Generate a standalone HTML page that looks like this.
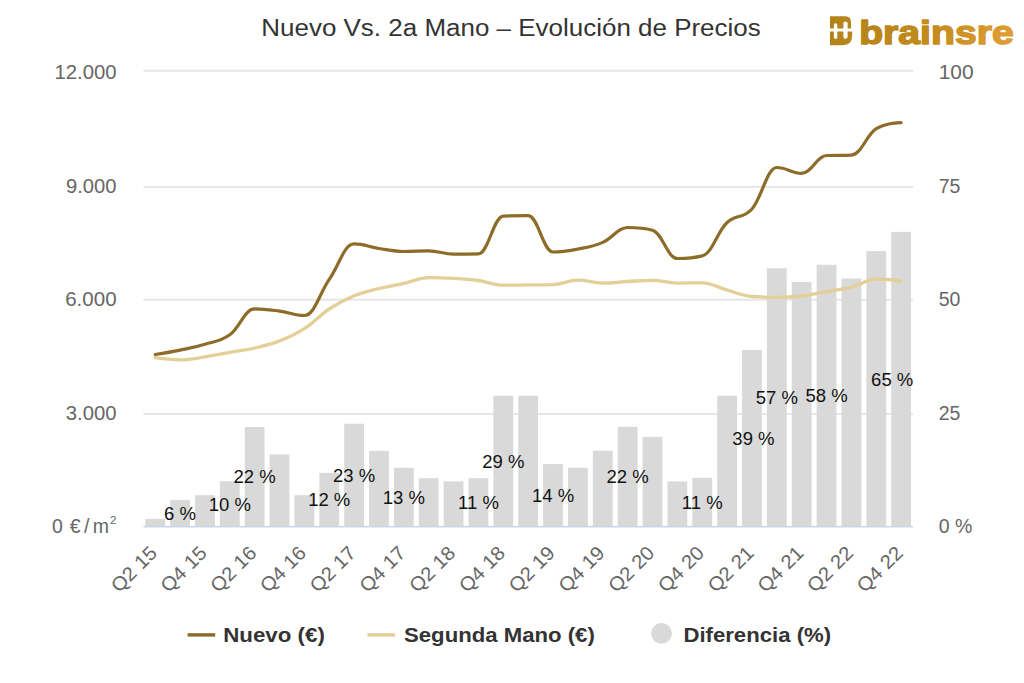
<!DOCTYPE html>
<html><head><meta charset="utf-8">
<style>
html,body{margin:0;padding:0;background:#fff;}
body{width:1024px;height:683px;overflow:hidden;position:relative;}
svg{position:absolute;left:0;top:0;}
text{font-family:"Liberation Sans",sans-serif;}
.title{font-size:23px;fill:#333;}
.ax{font-size:19.5px;fill:#666;}
.xl{font-size:19.5px;fill:#666;}
.dl{font-size:18.5px;fill:#111;}
.lg{font-size:19.5px;font-weight:bold;fill:#333;}
.logo{font-size:34px;font-weight:bold;}
</style></head><body>
<svg width="1024" height="683" viewBox="0 0 1024 683">
<defs>
<linearGradient id="gold" gradientUnits="userSpaceOnUse" x1="829" y1="0" x2="1015" y2="0">
<stop offset="0" stop-color="#b3831a"/><stop offset="0.5" stop-color="#c18a1c"/><stop offset="1" stop-color="#df9f36"/>
</linearGradient>
</defs>
<rect width="1024" height="683" fill="#fff"/>
<text class="title" x="511" y="35.8" text-anchor="middle" textLength="499.5" lengthAdjust="spacingAndGlyphs">Nuevo Vs. 2a Mano – Evolución de Precios</text>
<rect x="143.5" y="69.8" width="769.5" height="2" fill="#e6e6e6"/>
<rect x="143.5" y="185.9" width="769.5" height="2" fill="#e6e6e6"/>
<rect x="143.5" y="298.7" width="769.5" height="2" fill="#e6e6e6"/>
<rect x="143.5" y="413.0" width="769.5" height="2" fill="#e6e6e6"/>
<rect x="145.30" y="518.90" width="19.80" height="7.80" fill="#d9d9d9"/>
<rect x="170.16" y="500.10" width="19.80" height="26.60" fill="#d9d9d9"/>
<rect x="195.03" y="495.20" width="19.80" height="31.50" fill="#d9d9d9"/>
<rect x="219.89" y="481.20" width="19.80" height="45.50" fill="#d9d9d9"/>
<rect x="244.76" y="427.00" width="19.80" height="99.70" fill="#d9d9d9"/>
<rect x="269.62" y="454.40" width="19.80" height="72.30" fill="#d9d9d9"/>
<rect x="294.49" y="495.20" width="19.80" height="31.50" fill="#d9d9d9"/>
<rect x="319.36" y="472.90" width="19.80" height="53.80" fill="#d9d9d9"/>
<rect x="344.22" y="423.70" width="19.80" height="103.00" fill="#d9d9d9"/>
<rect x="369.09" y="450.90" width="19.80" height="75.80" fill="#d9d9d9"/>
<rect x="393.95" y="467.80" width="19.80" height="58.90" fill="#d9d9d9"/>
<rect x="418.81" y="478.20" width="19.80" height="48.50" fill="#d9d9d9"/>
<rect x="443.68" y="481.40" width="19.80" height="45.30" fill="#d9d9d9"/>
<rect x="468.55" y="478.20" width="19.80" height="48.50" fill="#d9d9d9"/>
<rect x="493.41" y="395.80" width="19.80" height="130.90" fill="#d9d9d9"/>
<rect x="518.27" y="395.80" width="19.80" height="130.90" fill="#d9d9d9"/>
<rect x="543.14" y="464.10" width="19.80" height="62.60" fill="#d9d9d9"/>
<rect x="568.00" y="467.80" width="19.80" height="58.90" fill="#d9d9d9"/>
<rect x="592.87" y="450.70" width="19.80" height="76.00" fill="#d9d9d9"/>
<rect x="617.74" y="426.80" width="19.80" height="99.90" fill="#d9d9d9"/>
<rect x="642.60" y="436.90" width="19.80" height="89.80" fill="#d9d9d9"/>
<rect x="667.47" y="481.40" width="19.80" height="45.30" fill="#d9d9d9"/>
<rect x="692.33" y="477.80" width="19.80" height="48.90" fill="#d9d9d9"/>
<rect x="717.20" y="395.70" width="19.80" height="131.00" fill="#d9d9d9"/>
<rect x="742.06" y="349.90" width="19.80" height="176.80" fill="#d9d9d9"/>
<rect x="766.93" y="268.20" width="19.80" height="258.50" fill="#d9d9d9"/>
<rect x="791.79" y="281.90" width="19.80" height="244.80" fill="#d9d9d9"/>
<rect x="816.65" y="264.80" width="19.80" height="261.90" fill="#d9d9d9"/>
<rect x="841.52" y="278.50" width="19.80" height="248.20" fill="#d9d9d9"/>
<rect x="866.38" y="251.10" width="19.80" height="275.60" fill="#d9d9d9"/>
<rect x="891.25" y="231.90" width="19.80" height="294.80" fill="#d9d9d9"/>
<rect x="143.5" y="525.9" width="769.5" height="1.6" fill="#ccd6eb"/>
<path d="M155.20 357.70 C155.20 357.70 170.12 359.80 180.06 359.80 C190.01 359.80 194.98 358.38 204.93 356.90 C214.88 355.42 219.85 354.18 229.79 352.40 C239.74 350.62 244.71 350.30 254.66 348.00 C264.61 345.70 269.58 344.78 279.52 340.90 C289.47 337.02 294.44 334.98 304.39 328.60 C314.34 322.22 319.31 315.56 329.25 309.00 C339.20 302.44 344.17 299.90 354.12 295.80 C364.07 291.70 369.04 290.98 378.99 288.50 C388.93 286.02 393.90 285.58 403.85 283.40 C413.80 281.22 418.77 277.60 428.71 277.60 C438.66 277.60 443.63 277.72 453.58 278.30 C463.53 278.88 468.50 279.12 478.44 280.50 C488.39 281.88 493.36 285.20 503.31 285.20 C513.26 285.20 518.23 285.02 528.17 284.90 C538.12 284.78 543.09 284.90 553.04 284.60 C562.99 284.30 567.96 280.20 577.90 280.20 C587.85 280.20 592.82 283.10 602.77 283.10 C612.72 283.10 617.69 282.06 627.63 281.50 C637.58 280.94 642.55 280.30 652.50 280.30 C662.45 280.30 667.42 283.10 677.37 283.10 C687.31 283.10 692.28 282.80 702.23 282.80 C712.18 282.80 717.15 287.36 727.10 290.10 C737.04 292.84 742.01 295.70 751.96 296.50 C761.91 297.30 766.88 297.30 776.83 297.30 C786.77 297.30 791.74 297.14 801.69 296.00 C811.64 294.86 816.61 293.36 826.55 291.60 C836.50 289.84 841.47 289.72 851.42 287.20 C861.37 284.68 866.34 279.00 876.28 279.00 C886.23 279.00 901.15 281.40 901.15 281.40" fill="none" stroke="#e3cf98" stroke-width="3.3" stroke-linecap="round" stroke-linejoin="round"/>
<path d="M155.20 354.50 C155.20 354.50 170.12 352.16 180.06 350.10 C190.01 348.04 194.98 347.26 204.93 344.20 C214.88 341.14 219.85 341.88 229.79 334.80 C239.74 327.72 244.71 308.80 254.66 308.80 C264.61 308.80 269.58 309.76 279.52 311.10 C289.47 312.44 294.44 315.50 304.39 315.50 C314.34 315.50 319.31 293.72 329.25 279.40 C339.20 265.08 344.17 243.90 354.12 243.90 C364.07 243.90 369.04 246.98 378.99 248.50 C388.93 250.02 393.90 251.50 403.85 251.50 C413.80 251.50 418.77 250.90 428.71 250.90 C438.66 250.90 443.63 254.10 453.58 254.10 C463.53 254.10 468.50 254.10 478.44 253.90 C488.39 253.70 493.36 216.50 503.31 216.10 C513.26 215.70 518.23 215.70 528.17 215.70 C538.12 215.70 543.09 252.00 553.04 252.00 C562.99 252.00 567.96 250.92 577.90 249.00 C587.85 247.08 592.82 246.70 602.77 242.40 C612.72 238.10 617.69 227.50 627.63 227.50 C637.58 227.50 642.55 227.50 652.50 230.20 C662.45 232.90 667.42 258.50 677.37 258.50 C687.31 258.50 692.28 258.50 702.23 255.90 C712.18 253.30 717.15 231.88 727.10 222.50 C737.04 213.12 742.01 220.00 751.96 209.00 C761.91 198.00 766.88 167.50 776.83 167.50 C786.77 167.50 791.74 173.40 801.69 173.40 C811.64 173.40 816.61 155.90 826.55 155.50 C836.50 155.10 841.47 155.50 851.42 155.10 C861.37 154.70 866.34 134.80 876.28 128.70 C886.23 122.60 901.15 122.60 901.15 122.60" fill="none" stroke="#8c6c28" stroke-width="3.2" stroke-linecap="round" stroke-linejoin="round"/>
<text class="dl" x="180.06" y="520.00" text-anchor="middle">6 %</text>
<text class="dl" x="229.79" y="510.55" text-anchor="middle">10 %</text>
<text class="dl" x="254.66" y="483.45" text-anchor="middle">22 %</text>
<text class="dl" x="329.25" y="506.40" text-anchor="middle">12 %</text>
<text class="dl" x="354.12" y="481.80" text-anchor="middle">23 %</text>
<text class="dl" x="403.85" y="503.85" text-anchor="middle">13 %</text>
<text class="dl" x="478.44" y="509.05" text-anchor="middle">11 %</text>
<text class="dl" x="503.31" y="467.85" text-anchor="middle">29 %</text>
<text class="dl" x="553.04" y="502.00" text-anchor="middle">14 %</text>
<text class="dl" x="627.63" y="483.35" text-anchor="middle">22 %</text>
<text class="dl" x="702.23" y="508.85" text-anchor="middle">11 %</text>
<text class="dl" x="753.46" y="444.90" text-anchor="middle">39 %</text>
<text class="dl" x="776.83" y="404.05" text-anchor="middle">57 %</text>
<text class="dl" x="826.55" y="402.35" text-anchor="middle">58 %</text>
<text class="dl" x="892.20" y="385.90" text-anchor="middle">65 %</text>
<text class="ax" x="116.6" y="78.6" text-anchor="end" textLength="62.1" lengthAdjust="spacingAndGlyphs">12.000</text>
<text class="ax" x="116.6" y="193.0" text-anchor="end" textLength="50.6" lengthAdjust="spacingAndGlyphs">9.000</text>
<text class="ax" x="116.6" y="306.0" text-anchor="end" textLength="51.4" lengthAdjust="spacingAndGlyphs">6.000</text>
<text class="ax" x="116.6" y="420.1" text-anchor="end" textLength="50.8" lengthAdjust="spacingAndGlyphs">3.000</text>
<text class="ax" x="57.50" y="532.9" text-anchor="middle">0</text>
<text class="ax" x="75.25" y="532.9" text-anchor="middle">€</text>
<text class="ax" x="86.60" y="532.9" text-anchor="middle">/</text>
<text class="ax" x="100.85" y="532.9" text-anchor="middle">m</text>
<text class="ax" x="113.35" y="523.75" text-anchor="middle" style="font-size:11.6px">2</text>
<text class="ax" x="938.7" y="78.7" textLength="34.9" lengthAdjust="spacingAndGlyphs">100</text>
<text class="ax" x="938.7" y="193.0">75</text>
<text class="ax" x="938.7" y="306.0">50</text>
<text class="ax" x="938.7" y="420.1">25</text>
<text class="ax" x="938.7" y="532.9">0 %</text>
<text class="xl" transform="translate(158.20 554.30) rotate(-45)" text-anchor="end" textLength="55.6" lengthAdjust="spacingAndGlyphs">Q2 15</text>
<text class="xl" transform="translate(207.93 554.30) rotate(-45)" text-anchor="end" textLength="55.6" lengthAdjust="spacingAndGlyphs">Q4 15</text>
<text class="xl" transform="translate(257.66 554.30) rotate(-45)" text-anchor="end" textLength="55.6" lengthAdjust="spacingAndGlyphs">Q2 16</text>
<text class="xl" transform="translate(307.39 554.30) rotate(-45)" text-anchor="end" textLength="55.6" lengthAdjust="spacingAndGlyphs">Q4 16</text>
<text class="xl" transform="translate(357.12 554.30) rotate(-45)" text-anchor="end" textLength="55.6" lengthAdjust="spacingAndGlyphs">Q2 17</text>
<text class="xl" transform="translate(406.85 554.30) rotate(-45)" text-anchor="end" textLength="55.6" lengthAdjust="spacingAndGlyphs">Q4 17</text>
<text class="xl" transform="translate(456.58 554.30) rotate(-45)" text-anchor="end" textLength="55.6" lengthAdjust="spacingAndGlyphs">Q2 18</text>
<text class="xl" transform="translate(506.31 554.30) rotate(-45)" text-anchor="end" textLength="55.6" lengthAdjust="spacingAndGlyphs">Q4 18</text>
<text class="xl" transform="translate(556.04 554.30) rotate(-45)" text-anchor="end" textLength="55.6" lengthAdjust="spacingAndGlyphs">Q2 19</text>
<text class="xl" transform="translate(605.77 554.30) rotate(-45)" text-anchor="end" textLength="55.6" lengthAdjust="spacingAndGlyphs">Q4 19</text>
<text class="xl" transform="translate(655.50 554.30) rotate(-45)" text-anchor="end" textLength="55.6" lengthAdjust="spacingAndGlyphs">Q2 20</text>
<text class="xl" transform="translate(705.23 554.30) rotate(-45)" text-anchor="end" textLength="55.6" lengthAdjust="spacingAndGlyphs">Q4 20</text>
<text class="xl" transform="translate(754.96 554.30) rotate(-45)" text-anchor="end" textLength="55.6" lengthAdjust="spacingAndGlyphs">Q2 21</text>
<text class="xl" transform="translate(804.69 554.30) rotate(-45)" text-anchor="end" textLength="55.6" lengthAdjust="spacingAndGlyphs">Q4 21</text>
<text class="xl" transform="translate(854.42 554.30) rotate(-45)" text-anchor="end" textLength="55.6" lengthAdjust="spacingAndGlyphs">Q2 22</text>
<text class="xl" transform="translate(904.15 554.30) rotate(-45)" text-anchor="end" textLength="55.6" lengthAdjust="spacingAndGlyphs">Q4 22</text>
<!-- legend -->
<rect x="187.6" y="633.2" width="27.6" height="3.4" fill="#8a6a26"/>
<text class="lg" x="223.2" y="641.8" textLength="101.7" lengthAdjust="spacingAndGlyphs">Nuevo (€)</text>
<rect x="367.5" y="633.2" width="27.7" height="3.4" fill="#e2ce96"/>
<text class="lg" x="404" y="641.8" textLength="190.8" lengthAdjust="spacingAndGlyphs">Segunda Mano (€)</text>
<circle cx="661.5" cy="633.3" r="10.4" fill="#d9d9d9"/>
<text class="lg" x="683.4" y="641.8" textLength="147.7" lengthAdjust="spacingAndGlyphs">Diferencia (%)</text>
<!-- logo -->
<g fill="url(#gold)">
<path d="M830 16.2 H845.5 Q851 16.2 851 22.5 V28.6 H830 Z"/>
<path d="M830 31.5 H852.2 V35.5 Q852.2 45.2 842.5 45.2 H830 Z"/>
</g>
<g fill="#fff">
<rect x="833.9" y="23.3" width="3.4" height="15.6" rx="1.7"/>
<rect x="843.4" y="21.5" width="4.2" height="17.4" rx="2.1"/>
</g>
<text class="logo" x="859.2" y="44.0" fill="url(#gold)" stroke="url(#gold)" stroke-width="1.5" stroke-linejoin="round" textLength="154.5" lengthAdjust="spacingAndGlyphs">brainsre</text>
</svg>
</body></html>
